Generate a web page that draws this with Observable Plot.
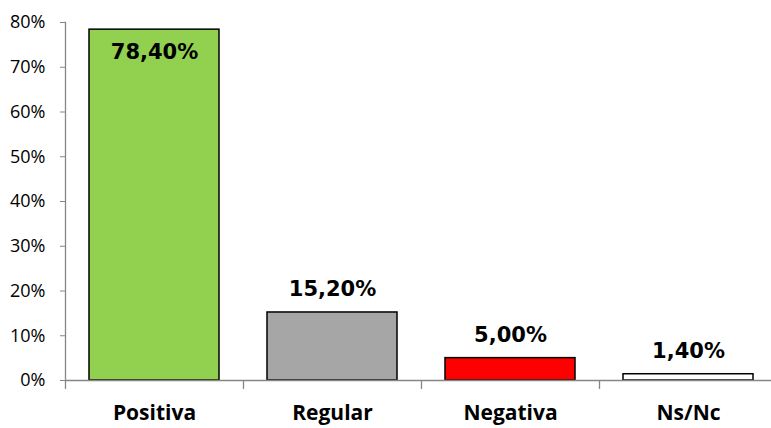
<!DOCTYPE html>
<html>
<head>
<meta charset="utf-8">
<script src="https://cdn.jsdelivr.net/npm/d3@7"></script>
<script src="https://cdn.jsdelivr.net/npm/@observablehq/plot@0.6"></script>
<style>
  html, body { margin: 0; padding: 0; background: #fff; }
  svg { display: block; }
</style>
</head>
<body>
<div id="chart"></div>
<script>
const categories = ["Positiva", "Regular", "Negativa", "Ns/Nc"];
const values = [78.4, 15.2, 5.0, 1.4];
const labels = ["78,40%", "15,20%", "5,00%", "1,40%"];
const colors = ["#92D050", "#A6A6A6", "#FF0000", "#FFFFFF"];
const yTicks = [0, 10, 20, 30, 40, 50, 60, 70, 80];

const data = categories.map((c, i) => ({cat: c, value: values[i], label: labels[i], color: colors[i]}));

const W = 771, H = 428;
const left = 65, right = 777;
const step = (right - left) / categories.length;

const chart = Plot.plot({
  width: W,
  height: H,
  marginLeft: left,
  marginRight: 0,
  marginTop: 22,
  marginBottom: 48,
  style: {background: "#fff", overflow: "visible"},
  x: {domain: categories, range: [left, right], paddingInner: 0.27, paddingOuter: 0.135, align: 0.5},
  y: {domain: [0, 80], ticks: yTicks},
  marks: [
    Plot.frame({anchor: "left", stroke: "#868686", strokeWidth: 1.3}),
    Plot.barY(data, {x: "cat", y: "value", fill: "color", stroke: "#000", strokeWidth: 1.5}),
    Plot.ruleY([0], {stroke: "#868686", strokeWidth: 1.5}),
    Plot.ruleX(categories, {x: d => d, y1: 0, y2: -2, dx: -step / 2, stroke: "#868686", strokeWidth: 1.3}),
    Plot.axisY({ticks: yTicks, tickFormat: d => d + "%", tickSize: 5, tickPadding: 15, stroke: "#868686",
      fontSize: 18, fontFamily: "Open Sans", color: "#000", label: null}),
    Plot.axisX({tickSize: 0, tickPadding: 25, fontSize: 21, fontWeight: "bold", fontFamily: "Open Sans", color: "#000", label: null}),
    Plot.text(data.filter(d => d.value > 50), {x: "cat", y: "value", text: "label", dy: 23,
      fontSize: 21, fontWeight: "bold", fontFamily: "DejaVu Sans", fill: "#000"}),
    Plot.text(data.filter(d => d.value <= 50), {x: "cat", y: "value", text: "label", dy: -23,
      fontSize: 21, fontWeight: "bold", fontFamily: "DejaVu Sans", fill: "#000"})
  ]
});
document.getElementById("chart").appendChild(chart);
</script>
</body>
</html>
